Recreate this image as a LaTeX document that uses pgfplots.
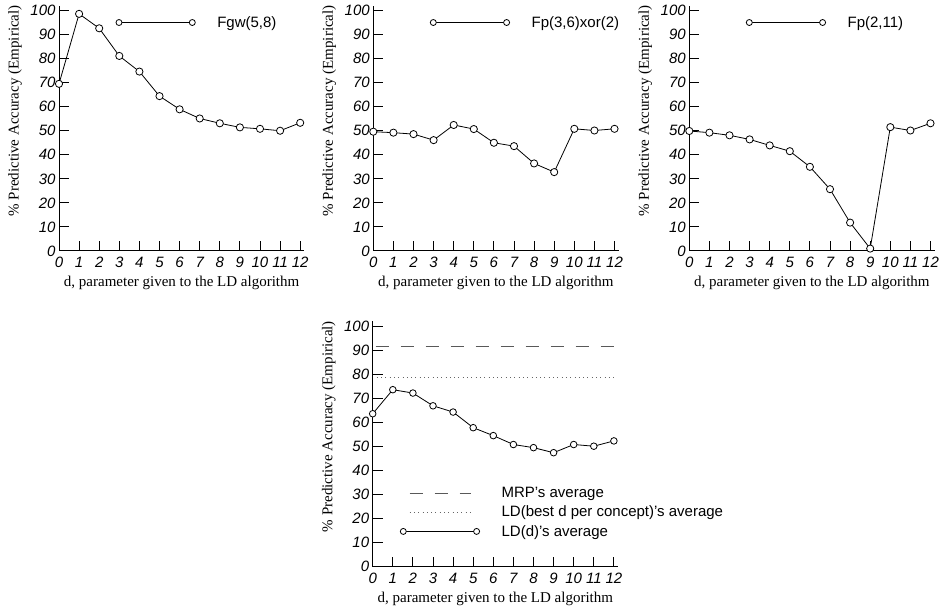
\documentclass[border=0pt]{standalone}
\usepackage{fontspec}
\setmainfont{Liberation Serif}
\setsansfont{Liberation Sans}
\usepackage{pgfplots}
\pgfplotsset{compat=1.18}
\pgfplotsset{
  ldaxis/.style={
    x=20.1pt, y=2.405pt,
    xmin=0, xmax=12.2, ymin=0, ymax=102,
    enlargelimits=false, clip=false,
    axis lines=left, axis line style={-, line width=1pt, black},
    xtick={0,1,...,12}, ytick={0,10,...,100},
    tick align=inside, major tick length=10pt,
    tick style={line width=1pt, black},
    tick label style={font=\sffamily\itshape\fontsize{15}{18}\selectfont},
    /pgf/number format/assume math mode=true,
    xticklabel style={yshift=-3pt},
    xlabel={d, parameter given to the LD algorithm},
    ylabel={\% Predictive Accuracy (Empirical)},
    label style={font=\rmfamily\fontsize{15}{18}\selectfont},
    xlabel style={at={(axis description cs:0.5,-0.1305)}, anchor=center},
    ylabel style={at={(axis description cs:-0.1795,0.571)}, anchor=center},
    legend style={draw=none, fill=none, inner sep=0pt,
      font=\sffamily\fontsize{15}{18}\selectfont,
      column sep=20pt, row sep=3pt},
    legend cell align=left,
  },
  ldline/.style={black, line width=0.8pt, mark=*, mark size=3.6pt,
    mark options={fill=white, draw=black, line width=0.8pt, solid},
    legend image code/.code={\draw[mark repeat=2, mark phase=1, ##1, mark size=3pt] plot coordinates {(0pt,0pt) (36.65pt,0pt) (73.3pt,0pt)};}},
  mrpline/.style={black!65, line width=0.9pt, dash pattern=on 13pt off 12pt,
    legend image code/.code={\path (0pt,0pt) (73.3pt,0pt); \draw[##1] (6.3pt,0pt) -- (68pt,0pt);}},
  bestline/.style={black!60, line width=0.8pt, dash pattern=on 1pt off 3.3pt,
    legend image code/.code={\path (0pt,0pt) (73.3pt,0pt); \draw[##1] (6.3pt,0pt) -- (68pt,0pt);}},
}
\begin{document}
\begin{tikzpicture}
\path[use as bounding box] (0,0) rectangle (940pt,609pt);
% Plot 1
\begin{axis}[ldaxis, at={(59pt,358pt)}, anchor=south west,
  legend style={at={(axis description cs:0.2459,0.9314)}, anchor=west, xshift=-3.5pt}]
\addplot[ldline] coordinates {(0,69.5) (1,98.6) (2,92.6) (3,81.1) (4,74.6) (5,64.4) (6,58.9) (7,55.1) (8,53.1) (9,51.4) (10,50.8) (11,50.0) (12,53.3)};
\addlegendentry{Fgw(5,8)}
\end{axis}
% Plot 2
\begin{axis}[ldaxis, at={(373.3pt,358pt)}, anchor=south west,
  legend style={at={(axis description cs:0.2459,0.9314)}, anchor=west, xshift=-3.5pt}]
\addplot[ldline] coordinates {(0,49.6) (1,49.2) (2,48.6) (3,46.1) (4,52.4) (5,50.7) (6,45.0) (7,43.6) (8,36.4) (9,32.8) (10,50.8) (11,50.1) (12,50.8)};
\addlegendentry{Fp(3,6)xor(2)}
\end{axis}
% Plot 3
\begin{axis}[ldaxis, at={(689.3pt,358pt)}, anchor=south west,
  legend style={at={(axis description cs:0.2459,0.9314)}, anchor=west, xshift=-3.5pt}]
\addplot[ldline] coordinates {(0,49.9) (1,49.2) (2,48.1) (3,46.4) (4,43.9) (5,41.5) (6,35.0) (7,25.7) (8,11.8) (9,1.0) (10,51.5) (11,50.1) (12,53.1)};
\addlegendentry{Fp(2,11)}
\end{axis}
% Plot 4
\begin{axis}[ldaxis, at={(372.7pt,42.3pt)}, anchor=south west,
  legend style={at={(axis description cs:0.126,0.2216)}, anchor=west, xshift=-3.5pt}]
\addplot[mrpline] coordinates {(0.15,91.6) (12.2,91.6)};
\addlegendentry{MRP's average}
\addplot[bestline] coordinates {(0.2,78.6) (12.1,78.6)};
\addlegendentry{LD(best d per concept)'s average}
\addplot[ldline, mark size=3.3pt] coordinates {(0,63.6) (1,73.6) (2,72.2) (3,66.9) (4,64.3) (5,57.8) (6,54.5) (7,50.8) (8,49.5) (9,47.4) (10,50.8) (11,50.1) (12,52.3)};
\addlegendentry{LD(d)'s average}
\end{axis}
\end{tikzpicture}
\end{document}
